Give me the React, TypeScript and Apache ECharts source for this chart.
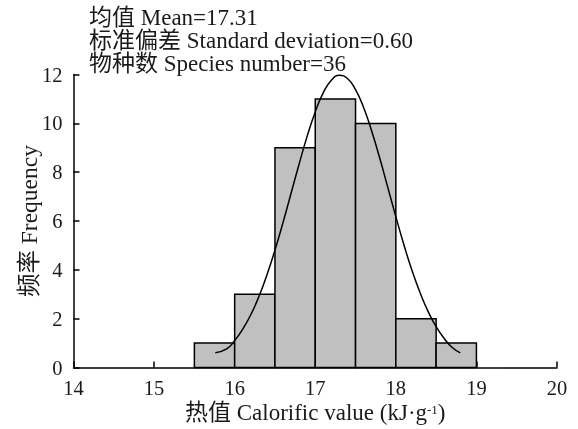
import React, { useEffect, useRef } from "react";
import * as echarts from "echarts";

// Histogram bins: [start, end, count]
const binStarts = [15.5, 16, 16.5, 17, 17.5, 18, 18.5];
const binEnds = [16, 16.5, 17, 17.5, 18, 18.5, 19];
const binCounts = [1, 3, 9, 11, 10, 2, 1];

// Fitted normal curve
const curveX = [15.76, 15.9, 16.0, 16.1, 16.2, 16.3, 16.4, 16.5, 16.6, 16.7, 16.8, 16.9, 17.0, 17.1, 17.2, 17.3, 17.4, 17.5, 17.6, 17.7, 17.8, 17.9, 18.0, 18.1, 18.2, 18.3, 18.4, 18.5, 18.6, 18.7, 18.8];
const curveY = [0.6, 0.76, 1.1, 1.57, 2.16, 2.9, 3.79, 4.81, 5.94, 7.14, 8.34, 9.48, 10.47, 11.26, 11.77, 11.97, 11.84, 11.38, 10.65, 9.69, 8.58, 7.38, 6.18, 5.03, 3.98, 3.07, 2.3, 1.67, 1.19, 0.82, 0.6];

const statLines = [
  "均值 Mean=17.31",
  "标准偏差 Standard deviation=0.60",
  "物种数 Species number=36",
];

const FONT = "'Liberation Serif', 'Noto Sans CJK SC', serif";

export default function App() {
  const ref = useRef<HTMLDivElement>(null);
  useEffect(() => {
    if (!ref.current) return;
    const chart = echarts.init(ref.current, null, { renderer: "svg" });
    const bars = binStarts.map((s, i) => [s, binEnds[i], binCounts[i]]);
    const curve = curveX.map((x, i) => [x, curveY[i]]);
    chart.setOption({
      animation: false,
      textStyle: { fontFamily: FONT },
      grid: { left: 73.5, right: 21, top: 74.6, bottom: 61 },
      xAxis: {
        type: "value",
        min: 14,
        max: 20,
        interval: 1,
        name: "{a|热值 Calorific value (kJ·g}{s|-1}{a|)}",
        nameLocation: "middle",
        nameGap: 35,
        nameMoveOverlap: false,
        nameTextStyle: {
          rich: {
            a: { fontFamily: FONT, fontSize: 23, color: "#1a1a1a", lineHeight: 20 },
            s: { fontFamily: FONT, fontSize: 13, color: "#1a1a1a", verticalAlign: "top", lineHeight: 20, padding: [0, 0, 8, 0] },
          },
        },
        axisLine: { show: true, lineStyle: { color: "#000", width: 1.5 } },
        axisTick: { show: true, inside: true, length: 6, lineStyle: { color: "#000", width: 1.5 } },
        axisLabel: { color: "#1a1a1a", fontSize: 20.5, lineHeight: 20, fontFamily: FONT, margin: 10 },
        splitLine: { show: false },
      },
      yAxis: {
        type: "value",
        min: 0,
        max: 12,
        interval: 2,
        name: "频率 Frequency",
        nameLocation: "middle",
        nameGap: 33,
        nameMoveOverlap: false,
        nameTextStyle: { fontFamily: FONT, fontSize: 23.5, color: "#1a1a1a" },
        axisLine: { show: true, lineStyle: { color: "#000", width: 1.5 } },
        axisTick: { show: true, inside: true, length: 6, lineStyle: { color: "#000", width: 1.5 } },
        axisLabel: { color: "#1a1a1a", fontSize: 20.5, fontFamily: FONT, margin: 11 },
        splitLine: { show: false },
      },
      graphic: [
        {
          type: "text",
          left: 89,
          top: 5.5,
          style: {
            text: statLines.join("\n"),
            font: "23px " + FONT,
            fill: "#1a1a1a",
            lineHeight: 23,
          },
        },
      ],
      series: [
        {
          type: "custom",
          data: bars,
          encode: { x: [0, 1], y: 2 },
          renderItem: (params: any, api: any) => {
            const p0 = api.coord([api.value(0), api.value(2)]);
            const p1 = api.coord([api.value(1), 0]);
            return {
              type: "rect",
              shape: { x: p0[0], y: p0[1], width: p1[0] - p0[0], height: p1[1] - p0[1] },
              style: { fill: "#c0c0c0", stroke: "#000", lineWidth: 1.5 },
            };
          },
          z: 2,
        },
        {
          type: "line",
          data: curve,
          smooth: true,
          showSymbol: false,
          symbol: "none",
          lineStyle: { color: "#000", width: 1.5 },
          z: 3,
        },
      ],
    });
    return () => chart.dispose();
  }, []);
  return <div ref={ref} style={{ position: "fixed", left: 0, top: 0, width: 578, height: 429 }} />;
}
